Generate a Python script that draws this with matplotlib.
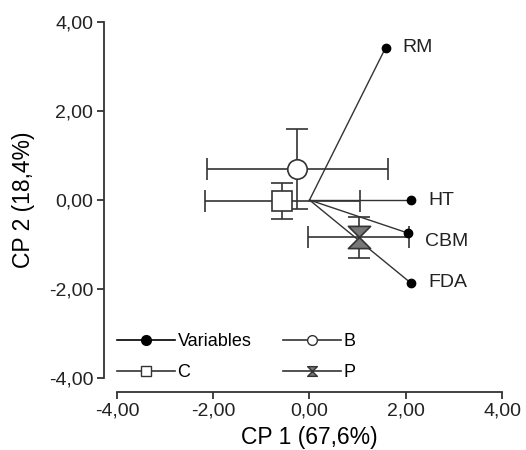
import matplotlib.pyplot as plt
from matplotlib.path import Path

plt.rcParams['font.family'] = ['Liberation Sans', 'DejaVu Sans']

# variable loadings (lines from origin)
var_names = ['RM', 'HT', 'CBM', 'FDA']
var_x = [1.58, 2.10, 2.04, 2.10]
var_y = [3.42, 0.00, -0.74, -1.86]
label_dy = [0.0, 0.0, -0.2, 0.0]

# group means with error bars
groups = ['B', 'C', 'P']
grp_x = [-0.25, -0.57, 1.02]
grp_y = [0.70, -0.02, -0.84]
grp_xerr = [1.88, 1.61, 1.05]
grp_yerr = [0.90, 0.41, 0.46]

bowtie = Path([(-1, 1), (1, 1), (0, 0), (1, -1), (-1, -1), (0, 0), (-1, 1)],
              [Path.MOVETO, Path.LINETO, Path.LINETO, Path.LINETO,
               Path.LINETO, Path.LINETO, Path.CLOSEPOLY])

fig = plt.figure(figsize=(5.26, 4.5), dpi=100)
ax = fig.add_axes([0.2224, 0.16, 0.732, 0.791])

lc = '#333333'
for i in range(len(var_names)):
    ax.plot([0, var_x[i]], [0, var_y[i]], color=lc, lw=1.0, zorder=2)
ax.plot(var_x, var_y, 'o', color='black', ms=6, zorder=4)
for i in range(len(var_names)):
    ax.text(var_x[i] + 0.36, var_y[i] + label_dy[i], var_names[i],
            fontsize=14, va='center', ha='left', color='#222222')

styles = {
    'B': dict(marker='o', ms=14, mfc='white', mec=lc),
    'C': dict(marker='s', ms=14, mfc='white', mec=lc),
    'P': dict(marker=bowtie, ms=16, mfc='#777777', mec=lc),
}
for i, g in enumerate(groups):
    ax.errorbar(grp_x[i], grp_y[i], xerr=grp_xerr[i], yerr=grp_yerr[i],
                ecolor=lc, elinewidth=1.2, capsize=8, capthick=1.2,
                linestyle='none', mew=1.2, zorder=3, **styles[g])

# legend handles
h_var, = ax.plot([], [], '-o', color='black', lw=1.2, ms=7)
h_b, = ax.plot([], [], '-o', color=lc, lw=1.2, ms=7, mfc='white', mec=lc)
h_c, = ax.plot([], [], '-s', color=lc, lw=1.2, ms=7, mfc='white', mec=lc)
h_p, = ax.plot([], [], '-', marker=bowtie, color=lc, lw=1.2, ms=7,
               mfc='#777777', mec=lc)
ax.legend([h_var, h_c, h_b, h_p], ['Variables', 'C', 'B', 'P'], ncol=2,
          loc='lower left', bbox_to_anchor=(0.0, -0.008), frameon=False,
          borderpad=0, borderaxespad=0,
          handlelength=3.2, handletextpad=0.15, columnspacing=1.75,
          labelspacing=0.75, fontsize=13)

ax.set_xlim(-4, 4)
ax.set_ylim(-4, 4)
ticks = [-4, -2, 0, 2, 4]
ax.set_xticks(ticks)
ax.set_yticks(ticks)
ax.set_xticklabels(['-4,00', '-2,00', '0,00', '2,00', '4,00'])
ax.set_yticklabels(['-4,00', '-2,00', '0,00', '2,00', '4,00'])
for s in ['top', 'right']:
    ax.spines[s].set_visible(False)
ax.spines['left'].set_position(('outward', 9))
ax.spines['bottom'].set_position(('outward', 10))
for s in ['left', 'bottom']:
    ax.spines[s].set_linewidth(1.3)
    ax.spines[s].set_color('#333333')
ax.tick_params(direction='out', length=5, width=1.3, colors='#333333',
               labelsize=14, labelcolor='#222222', pad=3)
ax.set_xlabel('CP 1 (67,6%)', fontsize=16.5, labelpad=4)
ax.set_ylabel('CP 2 (18,4%)', fontsize=16.5, labelpad=10)

fig.savefig('out.png', dpi=100)
